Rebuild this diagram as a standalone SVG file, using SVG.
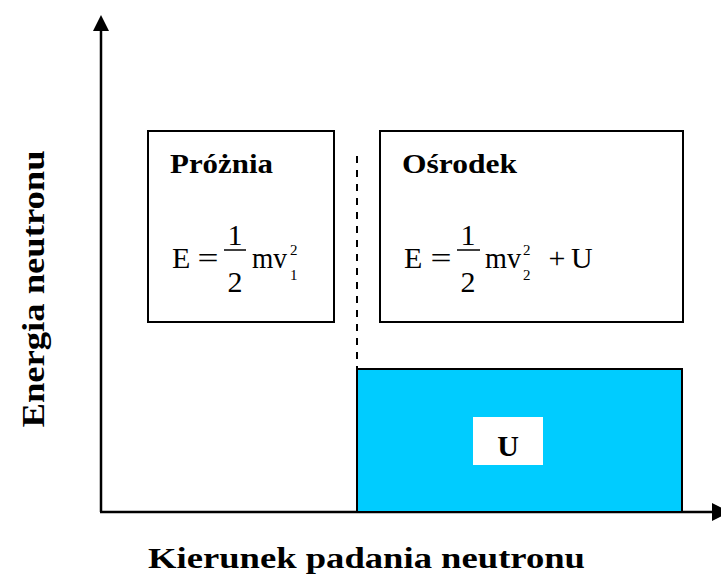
<svg xmlns="http://www.w3.org/2000/svg" width="721" height="580" viewBox="0 0 721 580">
<style>
.box{fill:#fff;stroke:#000;stroke-width:2}
.ax{stroke:#000;stroke-width:2.5;fill:none}
.t{font-family:"Liberation Serif","Times New Roman",serif;fill:#000}
.b{font-weight:bold}
.f{font-size:30px}
.s{font-size:15px}
</style>
<rect width="721" height="580" fill="#fff"/>
<g id="connectors">
<line class="ax" x1="101" y1="512" x2="101" y2="28"/>
<polygon points="101,15 93,31 109,31" fill="#000"/>
<line class="ax" x1="100" y1="512" x2="714" y2="512"/>
<polygon points="730,512 712,503 712,521" fill="#000"/>
<line x1="357" y1="156" x2="357" y2="368" stroke="#000" stroke-width="2" stroke-dasharray="7,7"/>
</g>
<g id="potential">
<rect x="357" y="369" width="325" height="143" fill="#00CCFF" stroke="#000" stroke-width="2"/>
<rect x="473" y="417" width="70" height="48" fill="#fff"/>
<text class="t b" x="508" y="456" font-size="30" text-anchor="middle">U</text>
</g>
<g id="vacuum">
<rect class="box" x="148" y="131" width="186" height="191"/>
<text class="t b" x="170" y="173" font-size="28" textLength="103" lengthAdjust="spacingAndGlyphs">Próżnia</text>
<text class="t f" x="172" y="268">E</text>
<text class="t f" x="208" y="268" text-anchor="middle" textLength="21" lengthAdjust="spacingAndGlyphs">=</text>
<text class="t f" x="235" y="245" text-anchor="middle">1</text>
<line x1="224" y1="250" x2="246" y2="250" stroke="#000" stroke-width="1.5"/>
<text class="t f" x="235" y="292" text-anchor="middle">2</text>
<text class="t f" x="252" y="268" textLength="35" lengthAdjust="spacingAndGlyphs">mv</text>
<text class="t s" x="290" y="255">2</text>
<text class="t s" x="290" y="280">1</text>
</g>
<g id="medium">
<rect class="box" x="380" y="131" width="303" height="191"/>
<text class="t b" x="402" y="173" font-size="28" textLength="115" lengthAdjust="spacingAndGlyphs">Ośrodek</text>
<text class="t f" x="404" y="268">E</text>
<text class="t f" x="441" y="268" text-anchor="middle" textLength="21" lengthAdjust="spacingAndGlyphs">=</text>
<text class="t f" x="468" y="245" text-anchor="middle">1</text>
<line x1="457" y1="250" x2="480" y2="250" stroke="#000" stroke-width="1.5"/>
<text class="t f" x="468" y="292" text-anchor="middle">2</text>
<text class="t f" x="485" y="268" textLength="36" lengthAdjust="spacingAndGlyphs">mv</text>
<text class="t s" x="523" y="255">2</text>
<text class="t s" x="523" y="280">2</text>
<text class="t f" x="557" y="268" text-anchor="middle">+</text>
<text class="t f" x="571" y="268">U</text>
</g>
<g id="labels">
<text class="t b" transform="translate(44,289) rotate(-90)" font-size="32" text-anchor="middle" textLength="277" lengthAdjust="spacingAndGlyphs">Energia neutronu</text>
<text class="t b" x="148" y="568" font-size="30" textLength="437" lengthAdjust="spacingAndGlyphs">Kierunek padania neutronu</text>
</g>
</svg>
